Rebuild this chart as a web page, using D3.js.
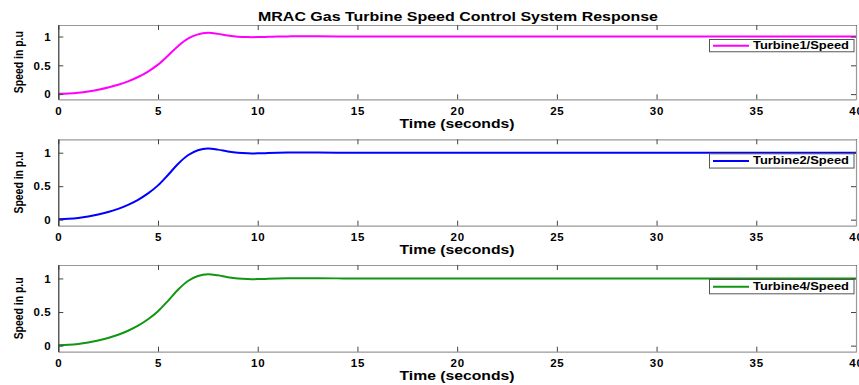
<!DOCTYPE html>
<html>
<head>
<meta charset="utf-8">
<script src="https://cdn.jsdelivr.net/npm/d3@7"></script>
<style>
  body { margin: 0; background: #fff; }
  text { font-family: "Liberation Sans", Arial, Helvetica, sans-serif; font-weight: bold; fill: #000; }
</style>
</head>
<body>
<svg id="chart" width="859" height="385"></svg>
<script>
// time samples (seconds)
var timeS = [0, 0.5, 1, 1.5, 2, 2.5, 3, 3.5, 4, 4.5, 5, 5.5, 6, 6.5, 7, 7.5, 8, 8.5, 9, 9.5, 10, 10.5, 11, 11.5, 12, 13, 14, 15, 20, 25, 30, 35, 40];
// speed in p.u for each turbine
var speed1 = [0.005, 0.012, 0.025, 0.047, 0.077, 0.115, 0.162, 0.222, 0.297, 0.392, 0.512, 0.667, 0.832, 0.962, 1.037, 1.064, 1.046, 1.018, 0.998, 0.99, 0.99, 0.994, 0.999, 1.002, 1.004, 1.003, 1.001, 1.0, 1.0, 1.0, 1.0, 1.0, 1.0];
var speed2 = [0.005, 0.012, 0.025, 0.047, 0.077, 0.115, 0.162, 0.222, 0.297, 0.392, 0.512, 0.667, 0.832, 0.962, 1.037, 1.064, 1.046, 1.018, 0.998, 0.99, 0.99, 0.994, 0.999, 1.002, 1.004, 1.003, 1.001, 1.0, 1.0, 1.0, 1.0, 1.0, 1.0];
var speed4 = [0.005, 0.012, 0.025, 0.047, 0.077, 0.115, 0.162, 0.222, 0.297, 0.392, 0.512, 0.667, 0.832, 0.962, 1.037, 1.064, 1.046, 1.018, 0.998, 0.99, 0.99, 0.994, 0.999, 1.002, 1.004, 1.003, 1.001, 1.0, 1.0, 1.0, 1.0, 1.0, 1.0];
var legendLabels = ["Turbine1/Speed", "Turbine2/Speed", "Turbine4/Speed"];
var xTicks = [0, 5, 10, 15, 20, 25, 30, 35, 40];
var yTicks = [0, 0.5, 1];

var series = [speed1, speed2, speed4];
var lineColors = ["#ff00ff", "#0000ff", "#119611"];

var svg = d3.select("#chart");
svg.append("rect").attr("width", 859).attr("height", 385).attr("fill", "#fff");

// panel boxes (top, bottom) in pixels
var panelBox = [[25, 99.3], [139.3, 225.7], [265, 351.7]];
var left = 58.3, right = 856;

var x = d3.scaleLinear().domain([0, 40]).range([left, right]);

// the original figure is stretched sideways, so texts are widened to fit
svg.append("text").attr("x", 458).attr("y", 21)
    .attr("text-anchor", "middle")
    .style("font-size", "12.5px")
    .attr("textLength", 400).attr("lengthAdjust", "spacingAndGlyphs")
    .text("MRAC Gas Turbine Speed Control System Response");

series.forEach(function(vals, i) {
  var top = panelBox[i][0], bottom = panelBox[i][1];
  var y = d3.scaleLinear().domain([-0.09, 1.2]).range([bottom, top]);
  var g = svg.append("g");

  // curve
  var line = d3.line()
      .x(function(d, k) { return x(timeS[k]); })
      .y(function(d) { return y(d); })
      .curve(d3.curveCatmullRom.alpha(0.5));
  var clipId = "clip" + i;
  g.append("clipPath").attr("id", clipId).append("rect")
      .attr("x", left).attr("y", top).attr("width", right - left).attr("height", bottom - top);
  g.append("path").datum(vals)
      .attr("clip-path", "url(#" + clipId + ")")
      .attr("fill", "none").attr("stroke", lineColors[i]).attr("stroke-width", 2)
      .attr("d", line);

  // axes (ticks inward, box on)
  var bottomAxis = g.append("g").attr("transform", "translate(0," + bottom + ")")
      .call(d3.axisBottom(x).tickValues(xTicks).tickSizeInner(-5).tickSizeOuter(0));
  var topAxis = g.append("g").attr("transform", "translate(0," + top + ")")
      .call(d3.axisTop(x).tickValues(xTicks).tickSizeInner(-5).tickSizeOuter(0).tickFormat(""));
  var leftAxis = g.append("g").attr("transform", "translate(" + left + ",0)")
      .call(d3.axisLeft(y).tickValues(yTicks).tickSizeInner(-5).tickSizeOuter(0)
        .tickFormat(function(d) { return d === 0.5 ? "0.5" : d3.format("d")(d); }));
  var rightAxis = g.append("g").attr("transform", "translate(" + right + ",0)")
      .call(d3.axisRight(y).tickValues(yTicks).tickSizeInner(-5).tickSizeOuter(0).tickFormat(""));

  [bottomAxis, topAxis, rightAxis].forEach(function(a) {
    a.select(".domain").attr("stroke", "#999").attr("stroke-width", 1.2);
    a.selectAll(".tick line").attr("stroke", "#444");
  });
  leftAxis.select(".domain").attr("stroke", "#333").attr("stroke-width", 1.2);
  leftAxis.selectAll(".tick line").attr("stroke", "#444");

  bottomAxis.selectAll(".tick text").style("font-size", "11.5px").style("letter-spacing", "0.8px")
      .attr("y", 15.5).attr("dy", null);
  leftAxis.selectAll(".tick text").style("font-size", "11.5px").style("letter-spacing", "0.6px")
      .attr("x", -7);

  // axis titles
  g.append("text").attr("x", 457).attr("y", bottom + 28.5)
      .attr("text-anchor", "middle")
      .style("font-size", "13.5px")
      .attr("textLength", 115).attr("lengthAdjust", "spacingAndGlyphs")
      .text("Time (seconds)");
  g.append("text")
      .attr("transform", "translate(19.5," + ((top + bottom) / 2) + ") rotate(-90)")
      .attr("text-anchor", "middle").attr("dominant-baseline", "middle")
      .style("font-size", "13px")
      .attr("textLength", 62).attr("lengthAdjust", "spacingAndGlyphs")
      .text("Speed in p.u");

  // legend
  var lh = (bottom - top) * 0.165;
  var ly = top + 14.5;
  var lg = g.append("g");
  lg.append("rect").attr("x", 709.5).attr("y", ly).attr("width", 144.5).attr("height", lh)
      .attr("fill", "#fff").attr("stroke", "#555").attr("stroke-width", 1);
  lg.append("line").attr("x1", 713).attr("x2", 749).attr("y1", ly + lh / 2).attr("y2", ly + lh / 2)
      .attr("stroke", lineColors[i]).attr("stroke-width", 2);
  lg.append("text").attr("x", 753).attr("y", ly + lh / 2 + 0.5)
      .attr("dominant-baseline", "middle")
      .style("font-size", "10.5px")
      .attr("textLength", 96).attr("lengthAdjust", "spacingAndGlyphs")
      .text(legendLabels[i]);
});
</script>
</body>
</html>
